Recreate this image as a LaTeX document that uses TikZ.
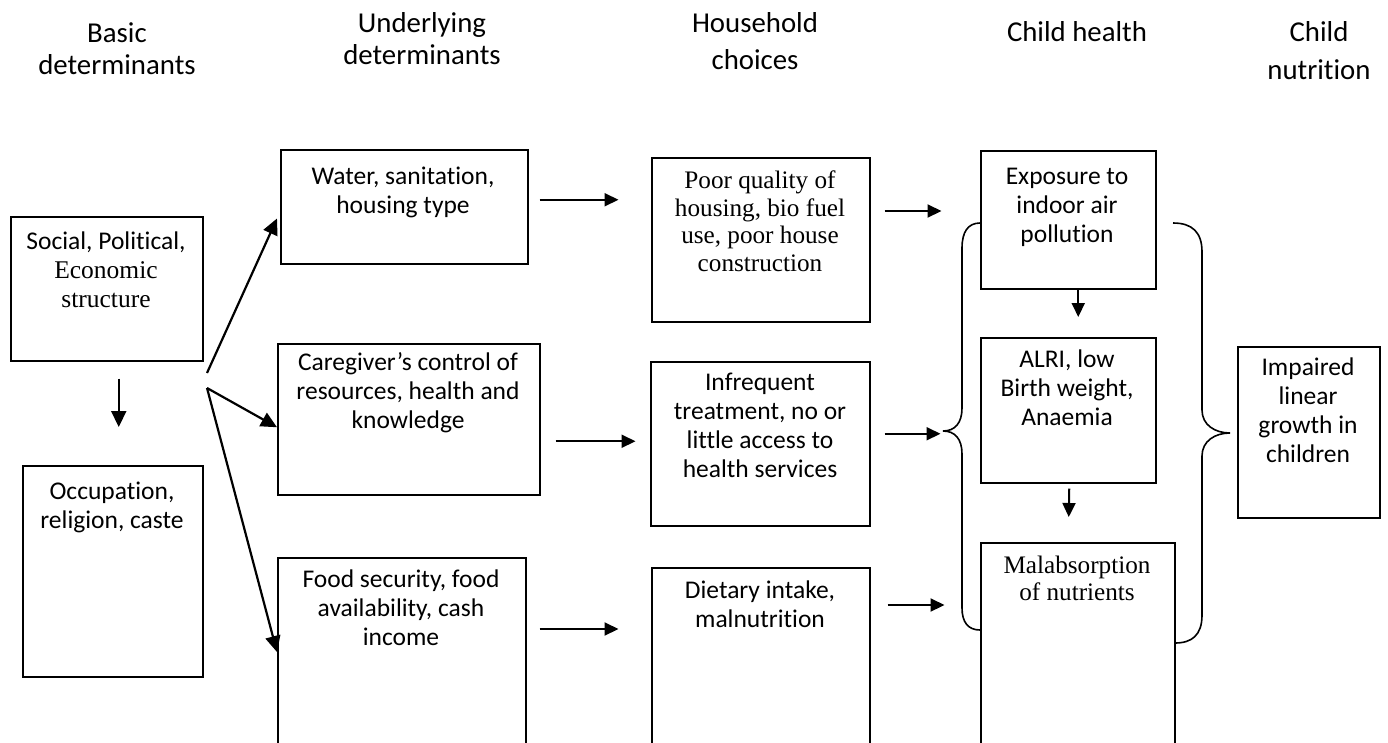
\documentclass[tikz,border=0pt]{standalone}
\usepackage{fontspec}
\setmainfont{Carlito}[Ligatures=CommonOff]
\newfontfamily\tnr{Liberation Serif}
\usetikzlibrary{arrows.meta,calc}
\begin{document}
\begin{tikzpicture}[x=1pt,y=-1pt,
  box/.style={draw, line width=1.5pt, inner sep=0pt, anchor=north west},
  txt/.style={align=center, font=\fontsize{25.5}{29}\selectfont, inner sep=0pt},
  serif/.style={align=center, font=\fontsize{25.2}{27.5}\selectfont\tnr, inner sep=0pt},
  hdr/.style={align=center, inner sep=0pt},
  arr/.style={line width=2pt, -{Triangle[length=14pt,width=13pt]}},
  bigarr/.style={line width=2.2pt, -{Triangle[length=16pt,width=15pt]}},
  brace/.style={line width=1.6pt}]
\useasboundingbox (0,0) rectangle (1388,742);
\clip (0,0) rectangle (1388,742);

% headers
\node[hdr, font=\fontsize{28.8}{32}\selectfont] (hbasic) at (117,49) {Basic\\determinants};
\node[hdr, font=\fontsize{28.8}{32}\selectfont] (hunder) at (422,39) {Underlying\\determinants};
\node[hdr, font=\fontsize{28.8}{37}\selectfont] (hhouse) at (755,41.5) {Household\\choices};
\node[hdr, font=\fontsize{28.8}{32}\selectfont] (hhealth) at (1077,32) {Child health};
\node[hdr, font=\fontsize{28.8}{38}\selectfont] (hnutr) at (1319,51) {Child\\nutrition};

% boxes
\node[box, minimum width=192pt, minimum height=144pt] (soc) at (10,216) {};
\node[box, minimum width=180pt, minimum height=211pt] (occ) at (22,465) {};
\node[box, minimum width=247pt, minimum height=114pt] (wat) at (280,149) {};
\node[box, minimum width=262pt, minimum height=151pt] (car) at (277,343) {};
\node[box, minimum width=248pt, minimum height=203pt] (food) at (277,557) {};
\node[box, minimum width=218pt, minimum height=164pt] (poor) at (651,157) {};
\node[box, minimum width=219pt, minimum height=164pt] (inf) at (650,361) {};
\node[box, minimum width=218pt, minimum height=193pt] (diet) at (651,567) {};
\node[box, minimum width=175pt, minimum height=138pt] (exp) at (980,150) {};
\node[box, minimum width=175pt, minimum height=145pt] (alri) at (980,337) {};
\node[box, minimum width=194pt, minimum height=218pt] (mal) at (980,542) {};
\node[box, minimum width=142pt, minimum height=171pt] (imp) at (1237,346) {};

% texts
\node[txt] (soct) at (106,270) {Social, Political,\\{\tnr Economic}\\{\tnr structure}};
\node[txt] (occt) at (112,507.5) {Occupation,\\religion, caste};
\node[txt] (watt) at (403,192) {Water, sanitation,\\housing type};
\node[txt] (cart) at (408,393) {Caregiver’s control of\\resources, health and\\knowledge};
\node[txt] (foodt) at (401,608) {Food security, food\\availability, cash\\income};
\node[serif] (poort) at (760,221) {Poor quality of\\housing, bio fuel\\use, poor house\\construction};
\node[txt] (inft) at (760,425.7) {Infrequent\\treatment, no or\\little access to\\health services};
\node[txt] (dietrt) at (760,604.5) {Dietary intake,\\malnutrition};
\node[txt] (expt) at (1067,207.7) {Exposure to\\indoor air\\pollution};
\node[txt] (alrit) at (1067,387.7) {ALRI, low\\Birth weight,\\Anaemia};
\node[serif] (malt) at (1077,578.5) {Malabsorption\\of nutrients};
\node[txt] (impt) at (1308,410) {Impaired\\linear\\growth in\\children};

% connectors
\draw[bigarr] ($(soc.south)+(12,17)$) -- ($(occ.north)+(6,-38)$);
\coordinate (f1) at (207,373);
\coordinate (f2) at (207,388);
\draw[bigarr] (f1) -- ($(wat.south west)+(-3,-46)$);
\draw[bigarr] (f2) -- ($(car.west)+(0,8)$);
\draw[bigarr] (f2) -- ($(food.north west)+(0,95)$);

\draw[arr] ($(wat.east)+(11,-7)$) -- ++(79,0);
\draw[arr] ($(car.east)+(15,22)$) -- ++(80,0);
\draw[arr] ($(food.north east)+(13,72)$) -- ++(79,0);

\draw[arr] ($(poor.north east)+(14,54)$) -- ++(57,0);
\draw[arr] ($(inf.east)+(14,-10)$) -- ++(56,0);
\draw[arr] ($(diet.north east)+(17,38)$) -- ++(57,0);

\draw[arr] ($(exp.south)+(10,0)$) -- ($(alri.north)+(10,-20)$);
\draw[arr] ($(alri.south)+(1,5)$) -- ($(mal.north)+(-9,-25)$);

% braces
\draw[brace] (980,223) .. controls (968,223) and (962,232) .. (962,248)
  -- (962,408) .. controls (962,423) and (955,431) .. (943,431)
  .. controls (955,431) and (962,439) .. (962,454)
  -- (962,608) .. controls (962,622) and (968,630) .. (980,630);
\draw[brace] (1173,223) .. controls (1192,223) and (1202,232) .. (1202,252)
  -- (1202,410) .. controls (1202,425) and (1215,433) .. (1230,433)
  .. controls (1215,433) and (1202,441) .. (1202,456)
  -- (1202,615) .. controls (1202,635) and (1192,643) .. (1175,643);
\end{tikzpicture}
\end{document}
